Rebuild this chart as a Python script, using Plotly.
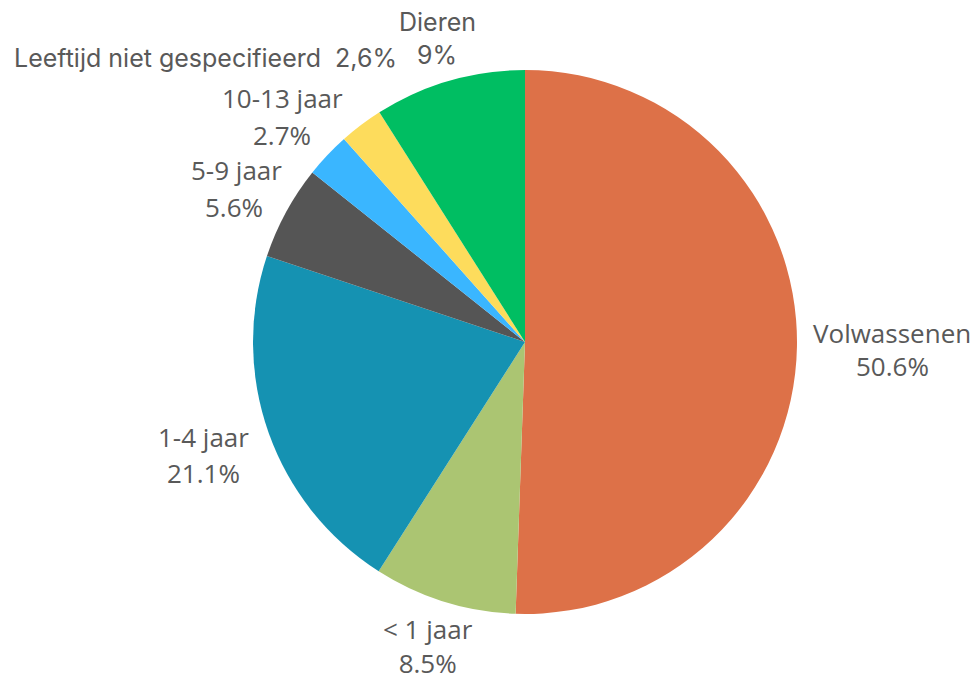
import plotly.graph_objects as go

# Data
labels = ["Volwassenen", "< 1 jaar", "1-4 jaar", "5-9 jaar", "10-13 jaar",
          "Leeftijd niet gespecifieerd", "Dieren"]
values = [50.6, 8.5, 21.1, 5.6, 2.7, 2.6, 9.0]
pct_text = ["50.6%", "8.5%", "21.1%", "5.6%", "2.7%", "2,6%", "9%"]

colors = ["#DD7148", "#ABC572", "#1592B2", "#555555", "#3AB6FF", "#FDDC5C", "#00BE62"]

W, H = 979, 684
OFF = 8  # page body margin
cx, cy, r = 525 - OFF, 342 - OFF, 272

fig = go.Figure(go.Pie(
    labels=labels, values=values, sort=False, direction="clockwise", rotation=0,
    marker=dict(colors=colors, line=dict(width=0)),
    textinfo="none", hoverinfo="label+percent", showlegend=False,
    domain=dict(x=[(cx - r) / W, (cx + r) / W], y=[(H - cy - r) / H, (H - cy + r) / H]),
))

# label placement (pixel centres in the page: name line, percent line)
label_pos = {
    "Volwassenen": [(892, 333), (892, 366)],
    "1-4 jaar": [(203, 437), (203, 473)],
    "5-9 jaar": [(236, 170), (234, 207)],
    "10-13 jaar": [(282, 98), (282, 135)],
    "Dieren": [(437, 22), (437, 55)],
}
font = dict(family="Open Sans", size=26, color="#595959")


def px(x, y):
    return (x - OFF) / W, 1 - (y - OFF) / H


anns = []
for lab, pct in zip(labels, pct_text):
    if lab in label_pos:
        (x1, y1), (x2, y2) = label_pos[lab]
        f = font if lab != "Dieren" else dict(family="Inter", size=25, color="#595959")
        ax, ay = px(x1, y1)
        anns.append(dict(x=ax, y=ay, xref="paper", yref="paper", text=lab,
                         showarrow=False, font=f, xanchor="center", yanchor="middle"))
        ax, ay = px(x2, y2)
        anns.append(dict(x=ax, y=ay, xref="paper", yref="paper", text=pct,
                         showarrow=False, font=f, xanchor="center", yanchor="middle"))
    elif lab == "< 1 jaar":
        ax, ay = px(428, 683)
        anns.append(dict(x=ax, y=ay, xref="paper", yref="paper",
                         text=lab + "<br>" + pct, showarrow=False, font=font,
                         xanchor="center", yanchor="bottom"))
    else:
        ax, ay = px(205, 58)
        anns.append(dict(x=ax, y=ay, xref="paper", yref="paper",
                         text=lab + "  " + pct, showarrow=False,
                         font=dict(family="Inter", size=25, color="#595959"),
                         xanchor="center", yanchor="middle"))

fig.update_layout(width=W, height=H, margin=dict(l=0, r=0, t=0, b=0),
                  paper_bgcolor="white", plot_bgcolor="white", annotations=anns)

fig.write_html("out.html")
